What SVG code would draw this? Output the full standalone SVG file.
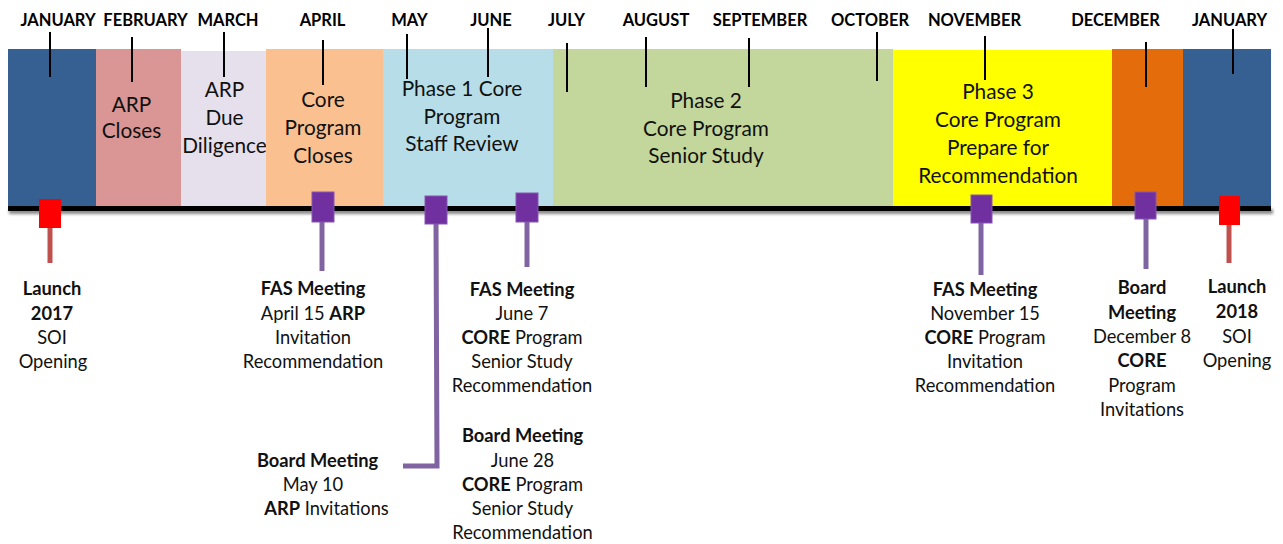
<svg xmlns="http://www.w3.org/2000/svg" width="1283" height="544" viewBox="0 0 1283 544">
<defs>
<style>
.m{font-family:Lato,"Liberation Sans",sans-serif;font-weight:bold;font-size:16.5px;fill:#000;text-anchor:middle}
.b{font-family:Lato,"Liberation Sans",sans-serif;font-size:20.8px;fill:#111;text-anchor:middle}
.t{font-family:Lato,"Liberation Sans",sans-serif;font-size:18.3px;fill:#111;text-anchor:middle}
.bo{font-weight:bold}
.tick{stroke:#000;stroke-width:2;fill:none}
.ps{stroke:#8064A2;stroke-width:5;fill:none}
.rs{stroke:#C0504D;stroke-width:5;fill:none}
.pm{fill:#7030A0;stroke:#8557B3;stroke-width:1}
.rm{fill:#FF0000}
</style>
<filter id="sh" x="-5%" y="-50%" width="110%" height="300%"><feGaussianBlur stdDeviation="1.5"/></filter>
</defs>
<rect width="1283" height="544" fill="#fff"/>

<g id="bands">
<g id="band-jan"><rect x="8" y="49" width="88" height="158" fill="#366092"/></g>
<g id="band-feb"><rect x="96" y="49" width="85" height="158" fill="#D99694"/>
<text class="b" x="131.5" y="112">ARP</text><text class="b" x="131.5" y="138">Closes</text></g>
<g id="band-mar"><rect x="181" y="51" width="85" height="156" fill="#E6E0EC"/>
<text class="b" x="224.5" y="97">ARP</text><text class="b" x="224.5" y="125">Due</text><text class="b" x="224.5" y="153">Diligence</text></g>
<g id="band-apr"><rect x="266" y="49" width="117" height="158" fill="#FAC090"/>
<text class="b" x="323" y="107">Core</text><text class="b" x="323" y="135">Program</text><text class="b" x="323" y="163">Closes</text></g>
<g id="band-phase1"><rect x="383" y="49" width="170" height="158" fill="#B7DEE8"/>
<text class="b" x="462" y="96">Phase 1 Core</text><text class="b" x="462" y="124">Program</text><text class="b" x="462" y="151">Staff Review</text></g>
<g id="band-phase2"><rect x="553" y="49" width="340" height="158" fill="#C3D69B"/>
<text class="b" x="706" y="108">Phase 2</text><text class="b" x="706" y="136">Core Program</text><text class="b" x="706" y="163">Senior Study</text></g>
<g id="band-phase3"><rect x="893" y="50" width="219" height="157" fill="#FFFF00"/>
<text class="b" x="998" y="99">Phase 3</text><text class="b" x="998" y="127">Core Program</text><text class="b" x="998" y="155">Prepare for</text><text class="b" x="998" y="183">Recommendation</text></g>
<g id="band-dec"><rect x="1112" y="49" width="71" height="158" fill="#E46C0A"/></g>
<g id="band-jan2"><rect x="1183" y="49" width="88" height="158" fill="#366092"/></g>
</g>

<g id="axis">
<rect x="9" y="209" width="1264" height="5" fill="#888" filter="url(#sh)"/>
<rect x="8" y="206" width="1263" height="5" fill="#000"/>
</g>

<g id="months">
<text class="m" x="58" y="26">JANUARY</text>
<text class="m" x="145.5" y="26">FEBRUARY</text>
<text class="m" x="228" y="26">MARCH</text>
<text class="m" x="322.5" y="26">APRIL</text>
<text class="m" x="409.5" y="26">MAY</text>
<text class="m" x="491" y="26">JUNE</text>
<text class="m" x="566.5" y="26">JULY</text>
<text class="m" x="656" y="26">AUGUST</text>
<text class="m" x="760" y="26">SEPTEMBER</text>
<text class="m" x="870" y="26">OCTOBER</text>
<text class="m" x="974.5" y="26">NOVEMBER</text>
<text class="m" x="1115.5" y="26">DECEMBER</text>
<text class="m" x="1229.5" y="26">JANUARY</text>
</g>

<g id="connectors">
<line class="tick" x1="50" y1="32" x2="50" y2="77"/>
<line class="tick" x1="132" y1="37" x2="132" y2="82"/>
<line class="tick" x1="224" y1="32" x2="224" y2="77"/>
<line class="tick" x1="323" y1="40" x2="323" y2="85"/>
<line class="tick" x1="407" y1="34" x2="407" y2="79"/>
<line class="tick" x1="488" y1="28" x2="488" y2="77"/>
<line class="tick" x1="567" y1="43" x2="567" y2="92"/>
<line class="tick" x1="646" y1="37" x2="646" y2="87"/>
<line class="tick" x1="749" y1="38" x2="749" y2="87"/>
<line class="tick" x1="877" y1="32" x2="877" y2="81"/>
<line class="tick" x1="985" y1="36" x2="985" y2="80"/>
<line class="tick" x1="1146" y1="42" x2="1146" y2="87"/>
<line class="tick" x1="1233" y1="29" x2="1233" y2="74"/>
<line class="rs" x1="50" y1="226" x2="50" y2="263"/>
<line class="ps" x1="322" y1="220" x2="322" y2="271"/>
<polyline class="ps" points="436,222 437,466 403,466"/>
<line class="ps" x1="527" y1="220" x2="527" y2="267"/>
<line class="ps" x1="981" y1="221" x2="981" y2="275"/>
<line class="ps" x1="1146" y1="217" x2="1146" y2="269"/>
<line class="rs" x1="1229" y1="223" x2="1229" y2="263"/>
</g>

<g id="markers">
<g id="marker-launch2017"><rect class="rm" x="39" y="199" width="22" height="29"/></g>
<g id="marker-fas-apr"><rect class="pm" x="312" y="192" width="22" height="30"/></g>
<g id="marker-board-may"><rect class="pm" x="425" y="196" width="22" height="28"/></g>
<g id="marker-fas-jun"><rect class="pm" x="516" y="193" width="22" height="29"/></g>
<g id="marker-fas-nov"><rect class="pm" x="971" y="195" width="21" height="28"/></g>
<g id="marker-board-dec"><rect class="pm" x="1135" y="192" width="21" height="27"/></g>
<g id="marker-launch2018"><rect class="rm" x="1219" y="196" width="21" height="29"/></g>
</g>

<g id="labels">
<g id="label-launch2017">
<text class="t bo" x="52" y="295">Launch</text>
<text class="t bo" x="52" y="320">2017</text>
<text class="t" x="52" y="344">SOI</text>
<text class="t" x="53" y="368">Opening</text>
</g>
<g id="label-fas-apr">
<text class="t bo" x="313" y="295">FAS Meeting</text>
<text class="t" x="313" y="320">April 15 <tspan class="bo">ARP</tspan></text>
<text class="t" x="313" y="344">Invitation</text>
<text class="t" x="313" y="368">Recommendation</text>
</g>
<g id="label-board-may">
<text class="t bo" x="317.5" y="467">Board Meeting</text>
<text class="t" x="313" y="491">May 10</text>
<text class="t" x="326.5" y="515"><tspan class="bo">ARP</tspan> Invitations</text>
</g>
<g id="label-fas-jun">
<text class="t bo" x="522" y="296">FAS Meeting</text>
<text class="t" x="522" y="320">June 7</text>
<text class="t" x="522" y="344"><tspan class="bo">CORE</tspan> Program</text>
<text class="t" x="522" y="368">Senior Study</text>
<text class="t" x="522" y="392">Recommendation</text>
</g>
<g id="label-board-jun">
<text class="t bo" x="522.5" y="442">Board Meeting</text>
<text class="t" x="522.5" y="467">June 28</text>
<text class="t" x="522.5" y="491"><tspan class="bo">CORE</tspan> Program</text>
<text class="t" x="522.5" y="515">Senior Study</text>
<text class="t" x="522.5" y="539">Recommendation</text>
</g>
<g id="label-fas-nov">
<text class="t bo" x="985" y="296">FAS Meeting</text>
<text class="t" x="985" y="320">November 15</text>
<text class="t" x="985" y="344"><tspan class="bo">CORE</tspan> Program</text>
<text class="t" x="985" y="368">Invitation</text>
<text class="t" x="985" y="392">Recommendation</text>
</g>
<g id="label-board-dec">
<text class="t bo" x="1142" y="294">Board</text>
<text class="t bo" x="1142" y="319">Meeting</text>
<text class="t" x="1142" y="343">December 8</text>
<text class="t bo" x="1142" y="367">CORE</text>
<text class="t" x="1142" y="392">Program</text>
<text class="t" x="1142" y="416">Invitations</text>
</g>
<g id="label-launch2018">
<text class="t bo" x="1237" y="293">Launch</text>
<text class="t bo" x="1237" y="318">2018</text>
<text class="t" x="1237" y="343">SOI</text>
<text class="t" x="1237" y="367">Opening</text>
</g>
</g>
</svg>
